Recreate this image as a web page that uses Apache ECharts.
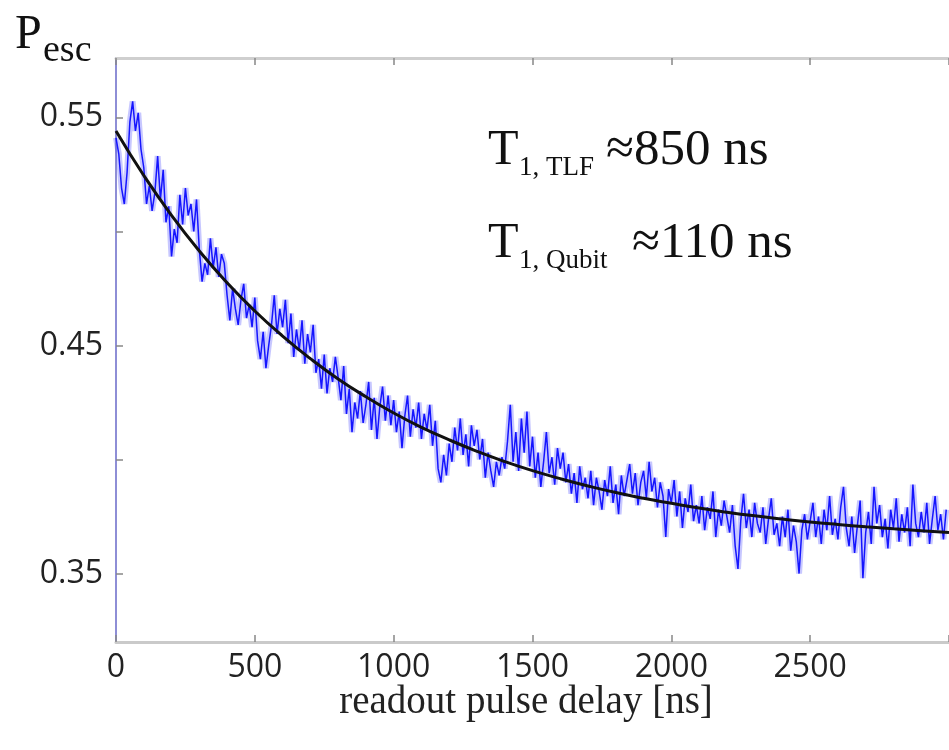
<!DOCTYPE html>
<html>
<head>
<meta charset="utf-8">
<script src="https://cdn.jsdelivr.net/npm/echarts@6/dist/echarts.min.js"></script>
<style>
html,body{margin:0;padding:0;background:#fff;}
#chart{width:949px;height:750px;}
</style>
</head>
<body>
<div id="chart"></div>
<script>
// delay values (ns) for the measured trace, step 10 ns
const measuredDelay = [];
for (let i = 0; i < 300; i++) measuredDelay.push(i * 10);
const measuredPesc = [
0.541,0.534,0.519,0.512,0.526,0.548,0.557,0.544,0.552,0.536,
0.528,0.512,0.520,0.509,0.517,0.533,0.514,0.527,0.504,0.511,
0.489,0.501,0.495,0.516,0.503,0.519,0.507,0.512,0.500,0.514,
0.492,0.478,0.486,0.481,0.497,0.484,0.493,0.480,0.490,0.486,
0.472,0.461,0.475,0.466,0.459,0.470,0.477,0.462,0.468,0.458,
0.471,0.452,0.444,0.456,0.440,0.450,0.459,0.472,0.455,0.466,
0.458,0.470,0.451,0.464,0.445,0.457,0.448,0.461,0.442,0.455,
0.447,0.459,0.438,0.444,0.431,0.446,0.429,0.440,0.434,0.445,
0.436,0.426,0.441,0.420,0.431,0.412,0.425,0.418,0.430,0.416,
0.424,0.434,0.413,0.427,0.409,0.423,0.432,0.417,0.428,0.415,
0.426,0.412,0.421,0.405,0.419,0.428,0.410,0.422,0.414,0.425,
0.409,0.420,0.413,0.424,0.406,0.417,0.396,0.390,0.402,0.393,
0.407,0.399,0.414,0.404,0.418,0.402,0.411,0.397,0.415,0.406,
0.413,0.400,0.409,0.392,0.403,0.395,0.388,0.399,0.393,0.401,
0.396,0.408,0.424,0.399,0.412,0.395,0.418,0.403,0.421,0.397,
0.410,0.392,0.403,0.388,0.399,0.412,0.394,0.401,0.389,0.405,
0.396,0.403,0.390,0.398,0.385,0.394,0.381,0.397,0.387,0.392,
0.383,0.395,0.380,0.392,0.386,0.378,0.391,0.384,0.397,0.381,
0.389,0.376,0.393,0.384,0.391,0.398,0.385,0.394,0.380,0.390,
0.395,0.383,0.399,0.386,0.392,0.379,0.390,0.384,0.366,0.387,
0.381,0.391,0.375,0.386,0.370,0.383,0.377,0.389,0.373,0.380,
0.372,0.384,0.369,0.379,0.374,0.386,0.366,0.378,0.371,0.382,
0.375,0.368,0.380,0.362,0.352,0.373,0.385,0.370,0.378,0.366,
0.381,0.372,0.368,0.379,0.363,0.374,0.383,0.367,0.372,0.362,
0.375,0.366,0.378,0.360,0.371,0.364,0.350,0.369,0.376,0.365,
0.373,0.381,0.366,0.375,0.363,0.378,0.369,0.384,0.367,0.374,
0.365,0.379,0.388,0.370,0.362,0.375,0.359,0.371,0.382,0.348,
0.368,0.377,0.363,0.388,0.372,0.380,0.366,0.374,0.361,0.378,
0.370,0.383,0.364,0.376,0.368,0.379,0.362,0.389,0.372,0.366,
0.377,0.368,0.381,0.363,0.374,0.384,0.369,0.376,0.365,0.378
];
// fitted curve, every 100 ns
const fitDelay = [0,100,200,300,400,500,600,700,800,900,1000,1100,1200,1300,1400,1500,
  1600,1700,1800,1900,2000,2100,2200,2300,2400,2500,2600,2700,2800,2900,3000];
const fitPesc = [0.544,0.5245,0.507,0.4914,0.4775,0.4651,0.4541,0.4442,0.4353,0.4275,
  0.4204,0.4141,0.4086,0.4036,0.3991,0.3951,0.3916,0.3884,0.3855,0.3830,0.3808,
  0.3787,0.3769,0.3753,0.3739,0.3726,0.3715,0.3705,0.3696,0.3688,0.3680];
const xTickLabels = [0,500,1000,1500,2000,2500];
const yTicks = [0.35,0.40,0.45,0.50,0.55];
const yTickLabels = [0.35,0.45,0.55];

const measured = measuredDelay.map((t, i) => [t, measuredPesc[i]]);
const fit = fitDelay.map((t, i) => [t, fitPesc[i]]);

const chart = echarts.init(document.getElementById('chart'), null, {renderer: 'canvas'});
const serif = 'Liberation Serif';
const labelFont = {fontFamily: 'Open Sans', fontSize: 32, color: '#222'};
chart.setOption({
  animation: false,
  backgroundColor: '#fff',
  grid: {left: 116, top: 58, width: 840, height: 584, containLabel: false},
  xAxis: [{
    type: 'value', min: 0, max: 3000, interval: 500, position: 'bottom',
    axisLine: {show: true, lineStyle: {color: '#cacaca', width: 3}},
    axisTick: {show: true, inside: true, length: 7, lineStyle: {color: '#888', width: 1.5}},
    axisLabel: Object.assign({show: true, margin: 10, customValues: xTickLabels,
      formatter: v => String(v)}, labelFont),
    splitLine: {show: false}
  }, {
    type: 'value', min: 0, max: 3000, interval: 500, position: 'top',
    axisLine: {show: true, onZero: false, lineStyle: {color: '#cfcfcf', width: 3}},
    axisTick: {show: true, inside: true, length: 7, lineStyle: {color: '#888', width: 1.5}},
    axisLabel: {show: false},
    splitLine: {show: false}
  }],
  yAxis: {
    type: 'value', min: 0.32, max: 0.576,
    axisLine: {show: true, lineStyle: {color: '#8e8ed6', width: 2}},
    axisTick: {show: true, inside: true, length: 7, customValues: yTicks, lineStyle: {color: '#888', width: 1.5}},
    axisLabel: Object.assign({show: true, margin: 13, customValues: yTickLabels,
      formatter: v => v.toFixed(2)}, labelFont),
    splitLine: {show: false}
  },
  series: [{
    type: 'line', data: measured, showSymbol: false, symbol: 'none',
    lineStyle: {color: 'rgba(70,70,255,0.3)', width: 6}, z: 1, silent: true
  }, {
    type: 'line', data: measured, showSymbol: false, symbol: 'none',
    lineStyle: {color: '#1515ff', width: 1.5}, z: 2, silent: true
  }, {
    type: 'line', data: fit, showSymbol: false, symbol: 'none', smooth: true,
    lineStyle: {color: '#111', width: 3}, z: 3, silent: true
  }],
  graphic: [
    {type: 'text', left: 15, top: 11, style: {text: 'P', font: '48px ' + serif, fill: '#111'}},
    {type: 'text', left: 43, top: 32, style: {text: 'esc', font: '38px ' + serif, fill: '#111'}},
    {type: 'text', x: 488, y: 151, style: {text: 'T', font: '50px ' + serif, fill: '#111', verticalAlign: 'middle'}},
    {type: 'text', x: 519, y: 168, style: {text: '1, TLF', font: '27px ' + serif, fill: '#111', verticalAlign: 'middle'}},
    {type: 'text', x: 606, y: 151, style: {text: '≈850 ns', font: '51px ' + serif, fill: '#111', verticalAlign: 'middle'}},
    {type: 'text', x: 488, y: 244, style: {text: 'T', font: '50px ' + serif, fill: '#111', verticalAlign: 'middle'}},
    {type: 'text', x: 519, y: 261, style: {text: '1, Qubit', font: '27px ' + serif, fill: '#111', verticalAlign: 'middle'}},
    {type: 'text', x: 632, y: 244, style: {text: '≈110 ns', font: '51px ' + serif, fill: '#111', verticalAlign: 'middle'}},
    {type: 'text', x: 526, y: 703, style: {text: 'readout pulse delay [ns]', font: '39px ' + serif, fill: '#222', align: 'center', verticalAlign: 'middle'}}
  ]
});
</script>
</body>
</html>
